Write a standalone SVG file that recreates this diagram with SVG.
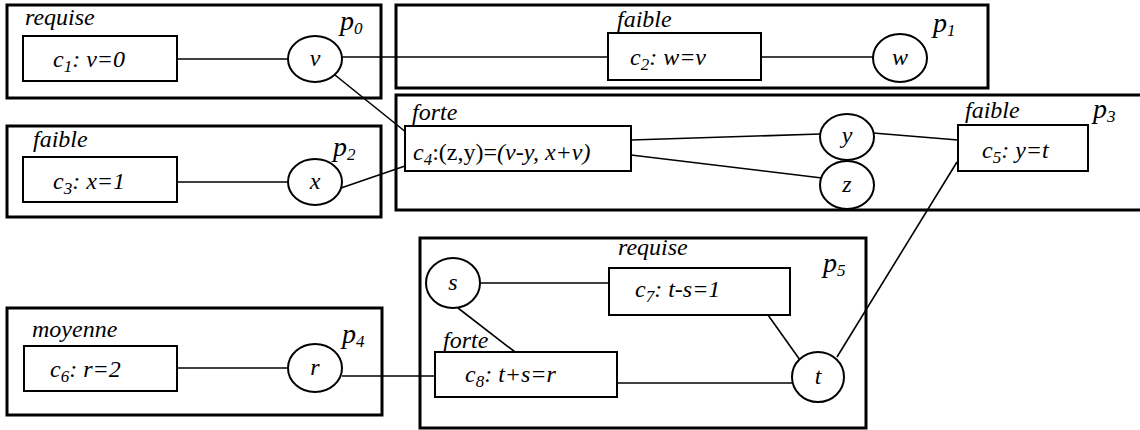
<svg xmlns="http://www.w3.org/2000/svg" width="1140" height="430" viewBox="0 0 1140 430">
<style>
.part{fill:none;stroke:#000;stroke-width:3}
.cons{fill:#fff;stroke:#000;stroke-width:2}
.var{fill:#fff;stroke:#000;stroke-width:2}
.conn line{stroke:#000;stroke-width:1.6}
text{font-family:"Liberation Serif","DejaVu Serif",serif;font-style:italic;fill:#000}
.lab{font-size:24px}
.ct{font-size:24px}
.vt{font-size:24px;text-anchor:middle}
.pl{font-size:28px}
.sub{font-size:17px}
.up{font-style:normal}
</style>
<rect width="1140" height="430" fill="#fff"/>
<g id="partitions">
<g id="p0"><rect class="part" x="7" y="5" width="374" height="93"/><text class="lab" x="25" y="25">requise</text><text class="pl" x="340" y="30">p<tspan class="sub" dy="4">0</tspan></text></g>
<g id="p1"><rect class="part" x="396" y="5" width="592" height="83"/><text class="pl" x="933" y="32">p<tspan class="sub" dy="4">1</tspan></text></g>
<g id="p2"><rect class="part" x="7" y="126" width="374" height="91"/><text class="lab" x="33" y="147">faible</text><text class="pl" x="333" y="156">p<tspan class="sub" dy="4">2</tspan></text></g>
<g id="p3"><rect class="part" x="396" y="95" width="750" height="115"/><text class="lab" x="412" y="120">forte</text><text class="pl" x="1093" y="118">p<tspan class="sub" dy="4">3</tspan></text></g>
<g id="p4"><rect class="part" x="7" y="308" width="375" height="107"/><text class="lab" x="32" y="337">moyenne</text><text class="pl" x="342" y="343">p<tspan class="sub" dy="4">4</tspan></text></g>
<g id="p5"><rect class="part" x="420" y="238" width="446" height="190"/><text class="pl" x="823" y="272">p<tspan class="sub" dy="4">5</tspan></text></g>
</g>
<g class="conn" id="connectors">
<line x1="177" y1="59" x2="288" y2="59"/>
<line x1="342" y1="57" x2="608" y2="57"/>
<line x1="761" y1="57" x2="873" y2="57"/>
<line x1="335" y1="75" x2="407" y2="133"/>
<line x1="177" y1="182" x2="288" y2="182"/>
<line x1="341" y1="188" x2="405" y2="166"/>
<line x1="631" y1="140" x2="820" y2="134"/>
<line x1="631" y1="155" x2="822" y2="178"/>
<line x1="873" y1="133" x2="958" y2="140"/>
<line x1="957" y1="162" x2="837" y2="357"/>
<line x1="177" y1="368" x2="288" y2="368"/>
<line x1="342" y1="376" x2="435" y2="376"/>
<line x1="480" y1="283" x2="609" y2="283"/>
<line x1="458" y1="308" x2="515" y2="352"/>
<line x1="617" y1="383" x2="793" y2="383"/>
<line x1="768" y1="315" x2="800" y2="360"/>
</g>
<g id="c1"><rect class="cons" x="23" y="36" width="154" height="45"/><text class="ct" x="53" y="67">c<tspan class="sub" dy="5">1</tspan><tspan dy="-5">: v=0</tspan></text></g>
<g id="v"><ellipse class="var" cx="315" cy="59" rx="27" ry="23"/><text class="vt" x="315" y="66">v</text></g>
<g id="c2"><rect class="cons" x="608" y="33" width="153" height="47"/><text class="lab" x="617" y="27">faible</text><text class="ct" x="630" y="65">c<tspan class="sub" dy="5">2</tspan><tspan dy="-5">: w=v</tspan></text></g>
<g id="w"><ellipse class="var" cx="900" cy="58" rx="27" ry="24"/><text class="vt" x="900" y="65">w</text></g>
<g id="c3"><rect class="cons" x="23" y="157" width="154" height="45"/><text class="ct" x="53" y="189">c<tspan class="sub" dy="5">3</tspan><tspan dy="-5">: x=1</tspan></text></g>
<g id="x"><ellipse class="var" cx="315" cy="182" rx="27" ry="23"/><text class="vt" x="315" y="189">x</text></g>
<g id="c4"><rect class="cons" x="405" y="126" width="226" height="45"/><text class="ct" x="413" y="160">c<tspan class="sub" dy="5">4</tspan><tspan dy="-5" class="up">:(z,y)=</tspan>(v-y, x+v)</text></g>
<g id="y"><ellipse class="var" cx="847" cy="137" rx="27" ry="23"/><text class="vt" x="847" y="143">y</text></g>
<g id="z"><ellipse class="var" cx="847" cy="185" rx="27" ry="24"/><text class="vt" x="847" y="192">z</text></g>
<g id="c5"><rect class="cons" x="958" y="125" width="130" height="46"/><text class="lab" x="965" y="118">faible</text><text class="ct" x="982" y="158">c<tspan class="sub" dy="5">5</tspan><tspan dy="-5">: y=t</tspan></text></g>
<g id="c6"><rect class="cons" x="24" y="346" width="153" height="45"/><text class="ct" x="50" y="377">c<tspan class="sub" dy="5">6</tspan><tspan dy="-5">: r=2</tspan></text></g>
<g id="r"><ellipse class="var" cx="315" cy="368" rx="27" ry="24"/><text class="vt" x="315" y="375">r</text></g>
<g id="s"><ellipse class="var" cx="453" cy="283" rx="27" ry="25"/><text class="vt" x="453" y="290">s</text></g>
<g id="c7"><rect class="cons" x="609" y="268" width="181" height="47"/><text class="lab" x="618" y="255">requise</text><text class="ct" x="635" y="297">c<tspan class="sub" dy="5">7</tspan><tspan dy="-5">: t-s=1</tspan></text></g>
<g id="c8"><rect class="cons" x="435" y="352" width="182" height="45"/><text class="lab" x="443" y="348">forte</text><text class="ct" x="465" y="382">c<tspan class="sub" dy="5">8</tspan><tspan dy="-5">: t+s=r</tspan></text></g>
<g id="t"><ellipse class="var" cx="818" cy="377" rx="26" ry="25"/><text class="vt" x="818" y="384">t</text></g>
</svg>
